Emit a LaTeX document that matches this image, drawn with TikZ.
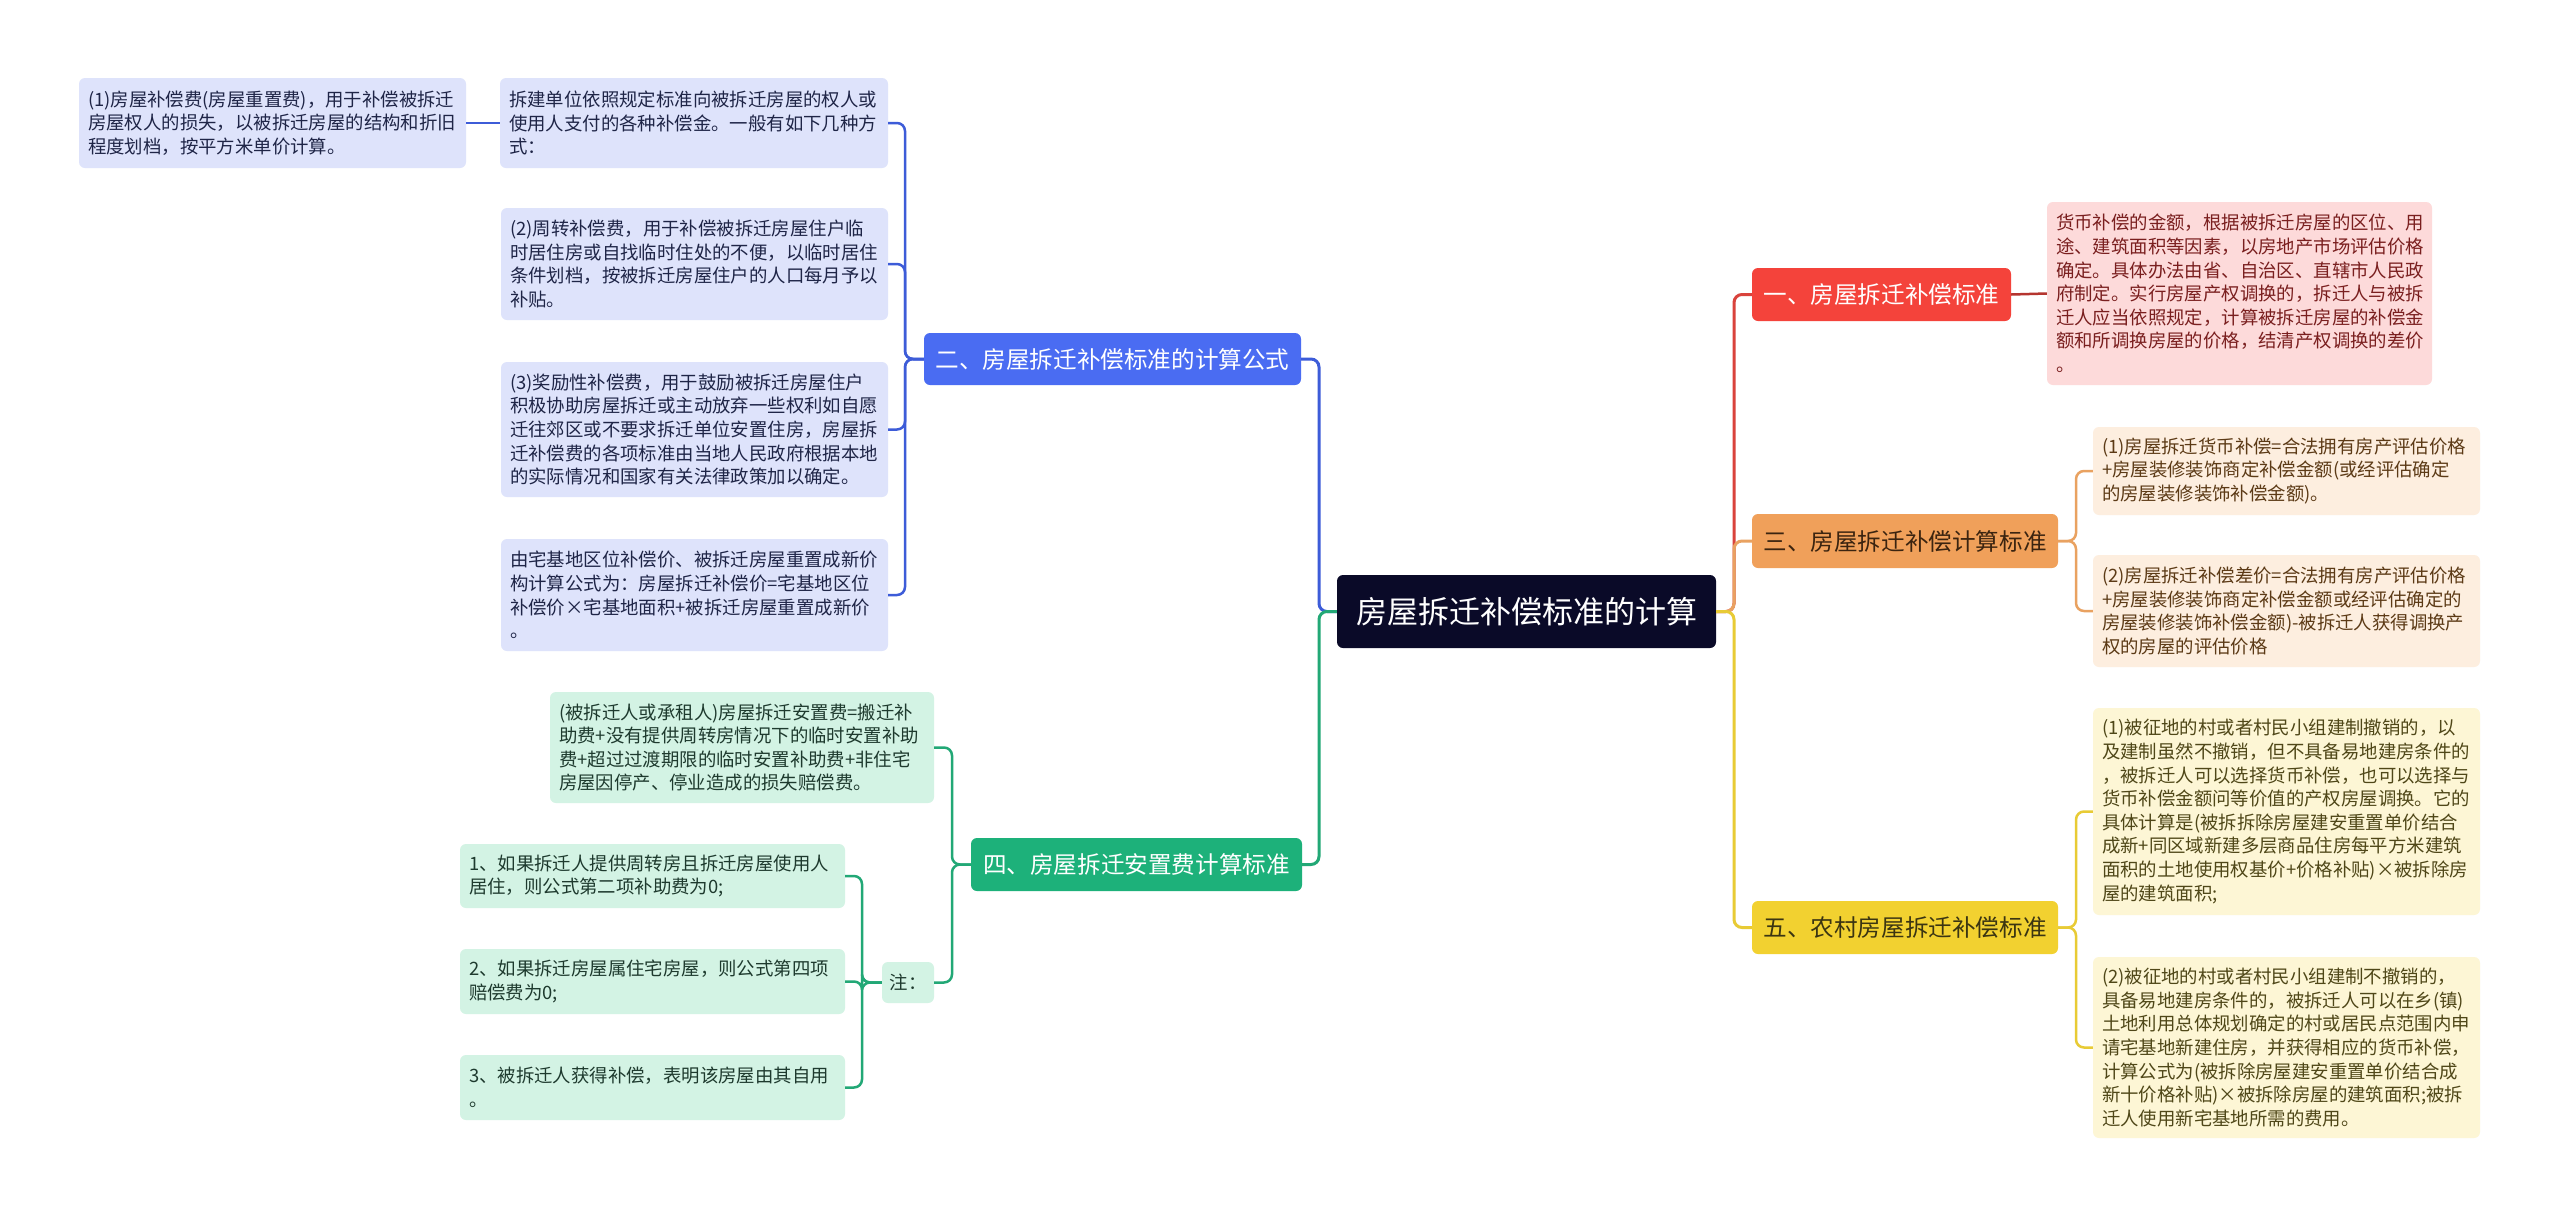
\documentclass[tikz,border=0pt]{standalone}
\usepackage{fontspec}
\setmainfont{Noto Sans CJK SC}
\definecolor{navy}{HTML}{0A0A28}
\definecolor{redB}{HTML}{F4433B}
\definecolor{redL}{HTML}{D9433C}
\definecolor{pinkF}{HTML}{FDDADA}
\definecolor{pinkT}{HTML}{7A1F1F}
\definecolor{pinkL}{HTML}{B5352F}
\definecolor{orB}{HTML}{F0A05A}
\definecolor{orT}{HTML}{3B2410}
\definecolor{orL}{HTML}{E9A261}
\definecolor{orF}{HTML}{FDEEDF}
\definecolor{orLT}{HTML}{5C3A16}
\definecolor{yeB}{HTML}{F2D130}
\definecolor{yeT}{HTML}{3B3512}
\definecolor{yeL}{HTML}{E8CB35}
\definecolor{yeF}{HTML}{FDF6D5}
\definecolor{yeLT}{HTML}{4F4718}
\definecolor{blB}{HTML}{4A6CF2}
\definecolor{blL}{HTML}{3D5CD8}
\definecolor{blF}{HTML}{DEE3FB}
\definecolor{blT}{HTML}{1F2547}
\definecolor{grB}{HTML}{1DB17A}
\definecolor{grL}{HTML}{22A876}
\definecolor{grF}{HTML}{D3F3E4}
\definecolor{grT}{HTML}{1E3A2E}
\begin{document}
\begin{tikzpicture}[x=1pt,y=-1pt,
  box/.style={rounded corners=6pt, inner sep=0pt, anchor=center},
  branch/.style={box, font=\fontsize{23.6}{28}\selectfont, align=center},
  leaf/.style={box, font=\fontsize{18.4}{23.6}\selectfont, align=left},
  lA/.style={leaf, fill=blF, text=blT},
  lC/.style={leaf, fill=pinkF, text=pinkT},
  lD/.style={leaf, fill=orF, text=orLT},
  lE/.style={leaf, fill=yeF, text=yeLT},
  lF/.style={leaf, fill=grF, text=grT},
  mainline/.style={line width=3pt, rounded corners=8pt},
  subline/.style={line width=2.5pt, rounded corners=8pt}]
\useasboundingbox[fill=white] (0,0) rectangle (2560,1219);

% centre
\node[box, fill=navy, text=white, font=\fontsize{31}{36}\selectfont,
  minimum width=379pt, minimum height=73pt] (N0) at (1526.5,611.5) {房屋拆迁补偿标准的计算};

% branches
\node[branch, fill=redB, text=white, minimum width=259pt, minimum height=53pt] (B1) at (1881.5,294.5) {一、房屋拆迁补偿标准};
\node[branch, fill=orB, text=orT, minimum width=306pt, minimum height=54pt] (B3) at (1905,541) {三、房屋拆迁补偿计算标准};
\node[branch, fill=yeB, text=yeT, minimum width=306pt, minimum height=53pt] (B5) at (1905,927.5) {五、农村房屋拆迁补偿标准};
\node[branch, fill=blB, text=white, minimum width=377pt, minimum height=52pt] (B2) at (1112.5,359) {二、房屋拆迁补偿标准的计算公式};
\node[branch, fill=grB, text=white, minimum width=331pt, minimum height=53pt] (B4) at (1136.5,864.5) {四、房屋拆迁安置费计算标准};

% right leaves
\node[lC, minimum width=385pt, minimum height=183pt, text width=367pt] (C1) at (2239.5,293.5) {货币补偿的金额，根据被拆迁房屋的区位、用\\途、建筑面积等因素，以房地产市场评估价格\\确定。具体办法由省、自治区、直辖市人民政\\府制定。实行房屋产权调换的，拆迁人与被拆\\迁人应当依照规定，计算被拆迁房屋的补偿金\\额和所调换房屋的价格，结清产权调换的差价\\。};
\node[lD, minimum width=387pt, minimum height=88pt, text width=369pt] (D1) at (2286.5,471) {(1)房屋拆迁货币补偿=合法拥有房产评估价格\\+房屋装修装饰商定补偿金额(或经评估确定\\的房屋装修装饰补偿金额)。};
\node[lD, minimum width=387pt, minimum height=112pt, text width=369pt] (D2) at (2286.5,611) {(2)房屋拆迁补偿差价=合法拥有房产评估价格\\+房屋装修装饰商定补偿金额或经评估确定的\\房屋装修装饰补偿金额)-被拆迁人获得调换产\\权的房屋的评估价格};
\node[lE, minimum width=387pt, minimum height=207pt, text width=369pt] (E1) at (2286.5,811.5) {(1)被征地的村或者村民小组建制撤销的，以\\及建制虽然不撤销，但不具备易地建房条件的\\，被拆迁人可以选择货币补偿，也可以选择与\\货币补偿金额问等价值的产权房屋调换。它的\\具体计算是(被拆拆除房屋建安重置单价结合\\成新+同区域新建多层商品住房每平方米建筑\\面积的土地使用权基价+价格补贴)×被拆除房\\屋的建筑面积;};
\node[lE, minimum width=387pt, minimum height=181pt, text width=369pt] (E2) at (2286.5,1047.5) {(2)被征地的村或者村民小组建制不撤销的，\\具备易地建房条件的，被拆迁人可以在乡(镇)\\土地利用总体规划确定的村或居民点范围内申\\请宅基地新建住房，并获得相应的货币补偿，\\计算公式为(被拆除房屋建安重置单价结合成\\新十价格补贴)×被拆除房屋的建筑面积;被拆\\迁人使用新宅基地所需的费用。};

% left leaves (blue)
\node[lA, minimum width=387pt, minimum height=90pt, text width=369pt] (A1) at (272.5,123) {(1)房屋补偿费(房屋重置费)，用于补偿被拆迁\\房屋权人的损失，以被拆迁房屋的结构和折旧\\程度划档，按平方米单价计算。};
\node[lA, minimum width=388pt, minimum height=90pt, text width=370pt] (A0) at (694,123) {拆建单位依照规定标准向被拆迁房屋的权人或\\使用人支付的各种补偿金。一般有如下几种方\\式：};
\node[lA, minimum width=387pt, minimum height=112pt, text width=369pt] (A2) at (694.5,264) {(2)周转补偿费，用于补偿被拆迁房屋住户临\\时居住房或自找临时住处的不便，以临时居住\\条件划档，按被拆迁房屋住户的人口每月予以\\补贴。};
\node[lA, minimum width=387pt, minimum height=135pt, text width=369pt] (A3) at (694.5,429.5) {(3)奖励性补偿费，用于鼓励被拆迁房屋住户\\积极协助房屋拆迁或主动放弃一些权利如自愿\\迁往郊区或不要求拆迁单位安置住房，房屋拆\\迁补偿费的各项标准由当地人民政府根据本地\\的实际情况和国家有关法律政策加以确定。};
\node[lA, minimum width=387pt, minimum height=112pt, text width=369pt] (A4) at (694.5,595) {由宅基地区位补偿价、被拆迁房屋重置成新价\\构计算公式为：房屋拆迁补偿价=宅基地区位\\补偿价×宅基地面积+被拆迁房屋重置成新价\\。};

% left leaves (green)
\node[lF, minimum width=384pt, minimum height=111pt, text width=366pt] (F1) at (742,747.5) {(被拆迁人或承租人)房屋拆迁安置费=搬迁补\\助费+没有提供周转房情况下的临时安置补助\\费+超过过渡期限的临时安置补助费+非住宅\\房屋因停产、停业造成的损失赔偿费。};
\node[lF, minimum width=52pt, minimum height=41pt, align=center] (G) at (908,982.5) {注：};
\node[lF, minimum width=385pt, minimum height=64pt, text width=367pt] (H1) at (652.5,876) {1、如果拆迁人提供周转房且拆迁房屋使用人\\居住，则公式第二项补助费为0;};
\node[lF, minimum width=385pt, minimum height=65pt, text width=367pt] (H2) at (652.5,981.5) {2、如果拆迁房屋属住宅房屋，则公式第四项\\赔偿费为0;};
\node[lF, minimum width=385pt, minimum height=65pt, text width=367pt] (H3) at (652.5,1087.5) {3、被拆迁人获得补偿，表明该房屋由其自用\\。};

% junction coordinates
\coordinate (cl) at (1319,611.5);
\coordinate (cr) at (1734,611.5);
\coordinate (jb2) at (905,359);
\coordinate (jb4) at (952,864.5);
\coordinate (jg) at (862,982.5);
\coordinate (jb3) at (2076,541);
\coordinate (jb5) at (2076,927.5);

% main connectors
\draw[mainline, draw=blL] (N0.west) -- (cl) |- (B2.east);
\draw[mainline, draw=grL] (N0.west) -- (cl) |- (B4.east);
\draw[mainline, draw=redL] (N0.east) -- (cr) |- (B1.west);
\draw[mainline, draw=orL] (N0.east) -- (cr) |- (B3.west);
\draw[mainline, draw=yeL] (N0.east) -- (cr) |- (B5.west);

% child connectors
\draw[subline, draw=pinkL] (B1.east) -- (C1.west);
\draw[subline, draw=orL] (B3.east) -- (jb3) |- (D1.west);
\draw[subline, draw=orL] (B3.east) -- (jb3) |- (D2.west);
\draw[subline, draw=yeL] (B5.east) -- (jb5) |- (E1.west);
\draw[subline, draw=yeL] (B5.east) -- (jb5) |- (E2.west);

\draw[subline, draw=blL] (B2.west) -- (jb2) |- (A0.east);
\draw[subline, draw=blL] (B2.west) -- (jb2) |- (A2.east);
\draw[subline, draw=blL] (B2.west) -- (jb2) |- (A3.east);
\draw[subline, draw=blL] (B2.west) -- (jb2) |- (A4.east);
\draw[subline, draw=blL] (A0.west) -- (A1.east);

\draw[subline, draw=grL] (B4.west) -- (jb4) |- (F1.east);
\draw[subline, draw=grL] (B4.west) -- (jb4) |- (G.east);
\draw[subline, draw=grL] (G.west) -- (jg) |- (H1.east);
\draw[subline, draw=grL] (G.west) -- (jg) |- (H2.east);
\draw[subline, draw=grL] (G.west) -- (jg) |- (H3.east);
\end{tikzpicture}
\end{document}
